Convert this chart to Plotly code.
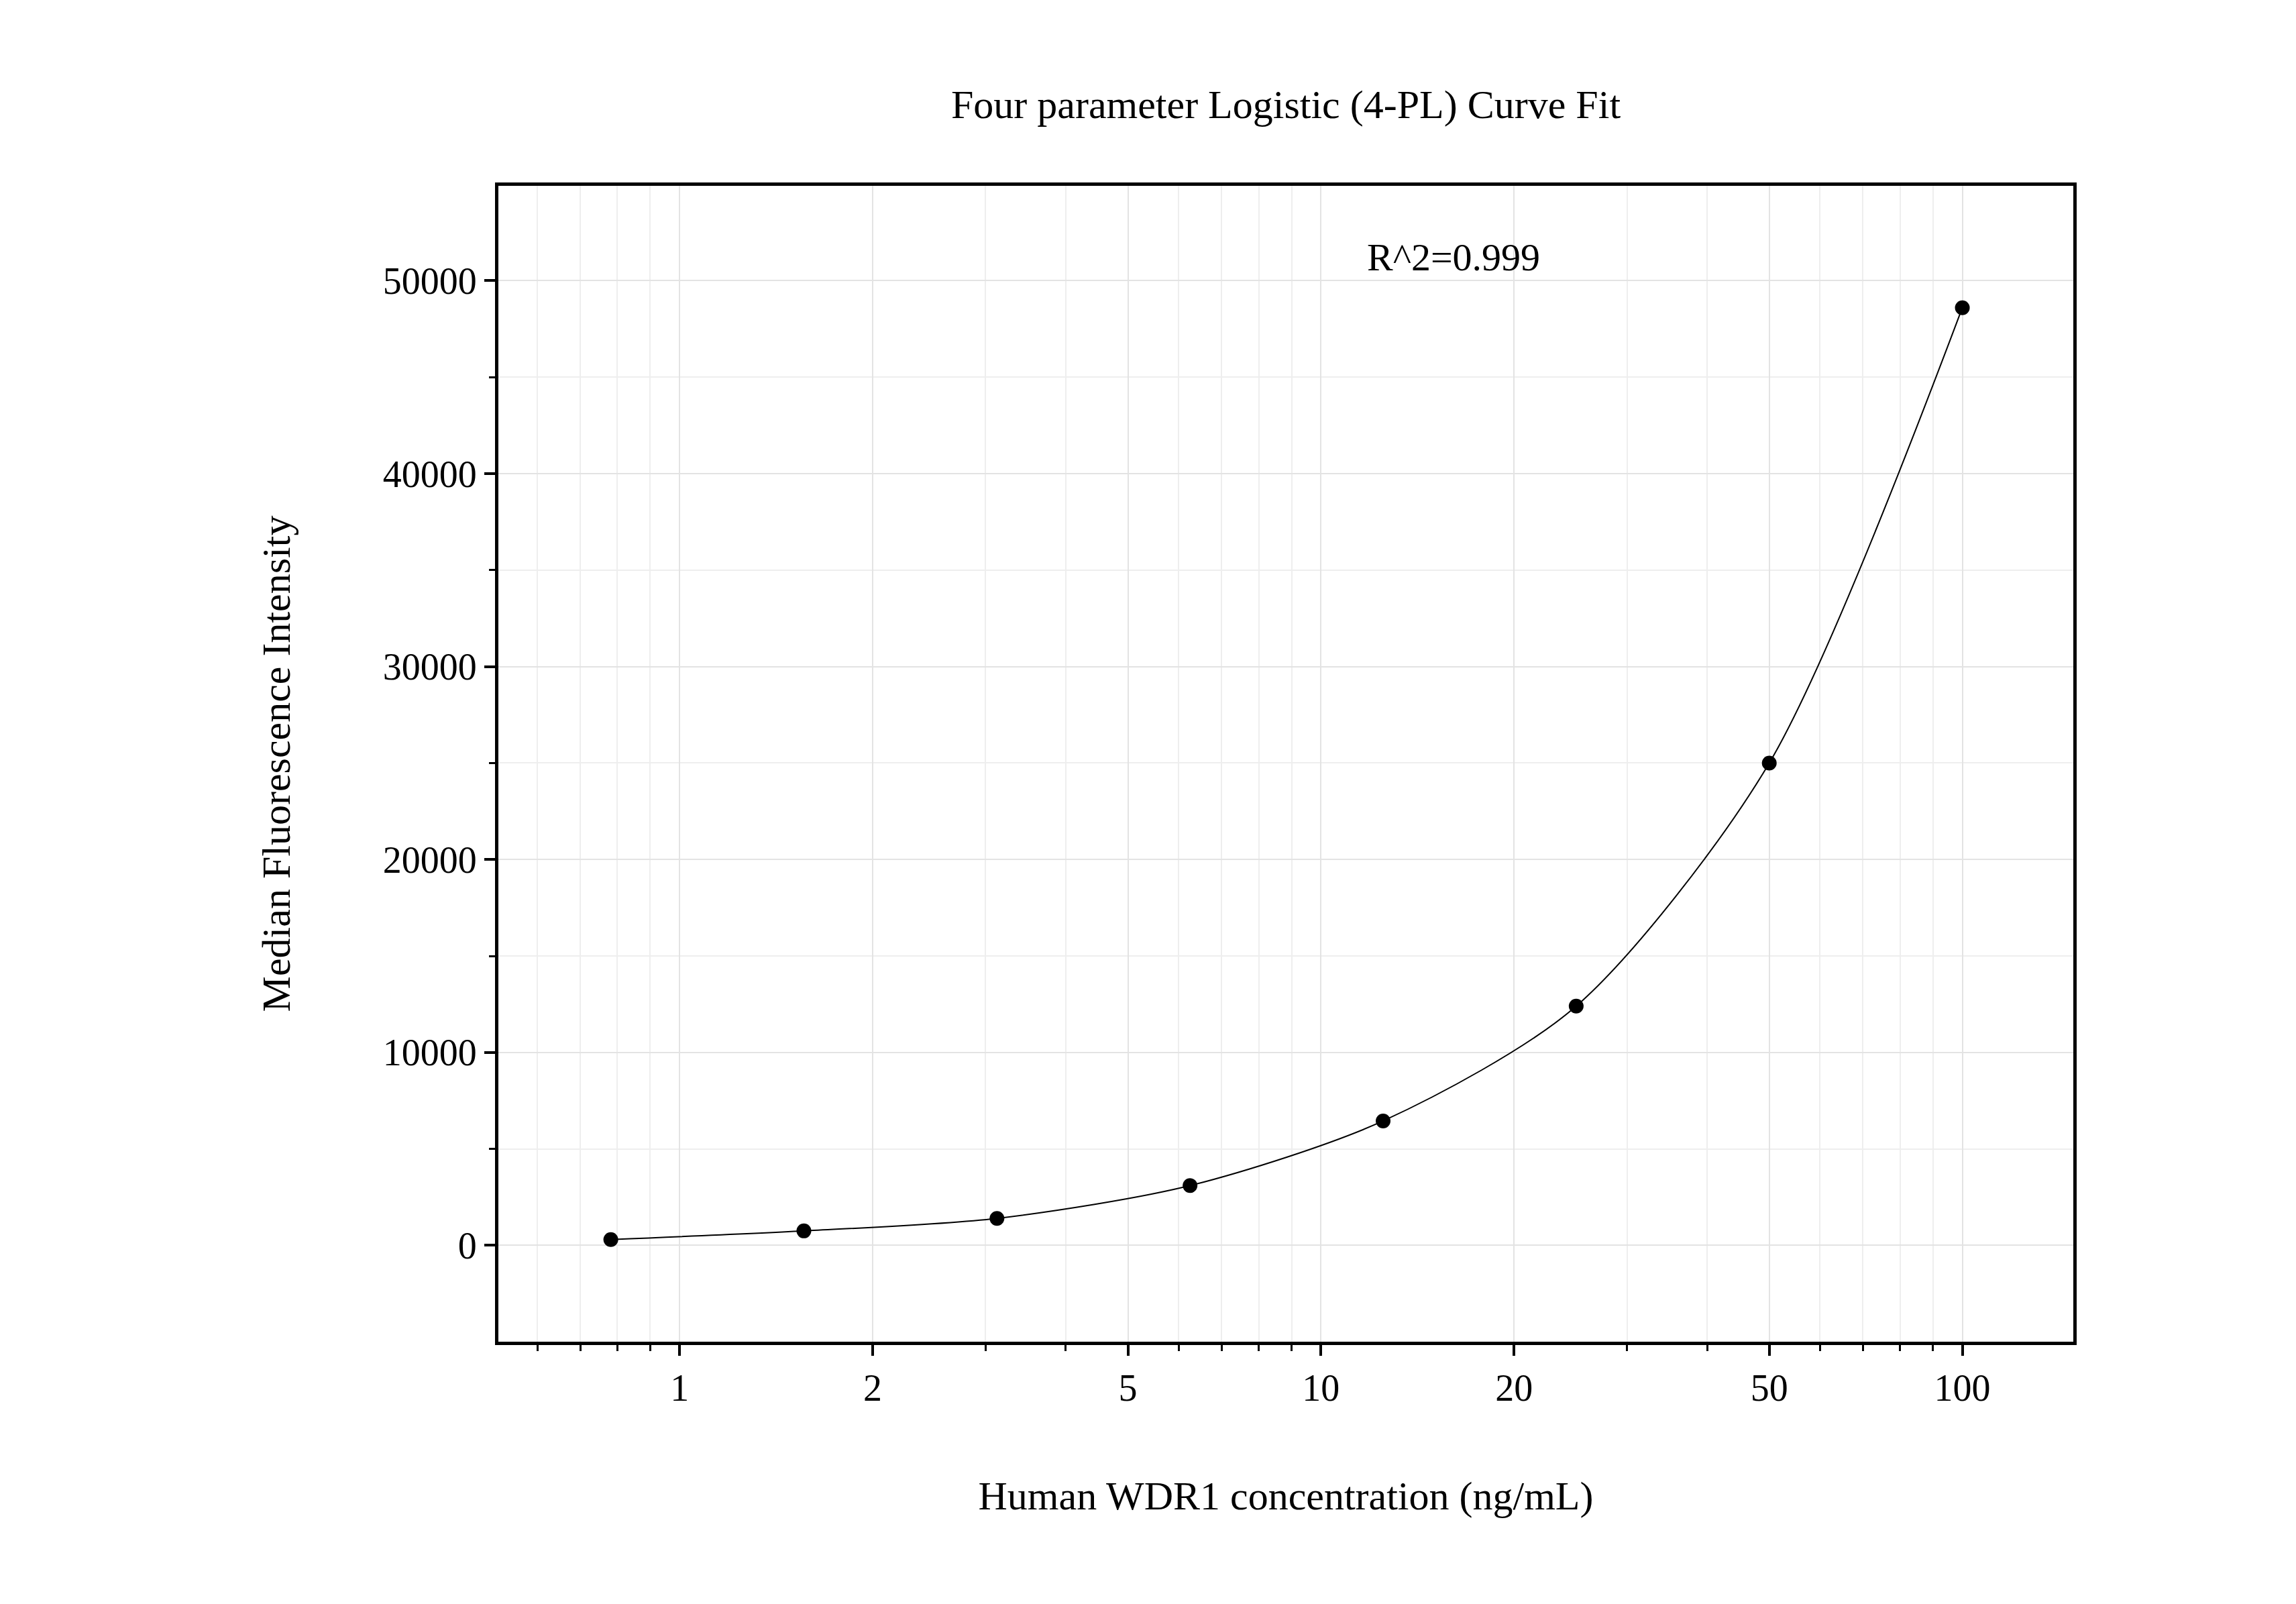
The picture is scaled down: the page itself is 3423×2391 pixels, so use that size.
import plotly.graph_objects as go

conc = [0.78125, 1.5625, 3.125, 6.25, 12.5, 25, 50, 100]
mfi = [300, 750, 1400, 3100, 6450, 12400, 25000, 48600]
xticks = [1, 2, 5, 10, 20, 50, 100]
yticks = [0, 10000, 20000, 30000, 40000, 50000]

F = "Liberation Serif"
fig = go.Figure()
fig.add_trace(go.Scatter(x=conc, y=mfi, mode="lines", line=dict(shape="spline", color="black", width=2, smoothing=0.8), hoverinfo="skip"))
fig.add_trace(go.Scatter(x=conc, y=mfi, mode="markers", marker=dict(color="black", size=22)))

ax = dict(showline=True, linecolor="black", linewidth=5, mirror=True, ticks="outside",
          ticklen=16, tickwidth=4, tickcolor="black", gridcolor="#e3e3e3", gridwidth=2,
          zeroline=False, tickfont=dict(family=F, size=56, color="black"))
fig.update_xaxes(type="log", range=[-0.2825, 2.173], tickvals=xticks, ticktext=[str(v) for v in xticks],
                 minor=dict(dtick="D1", ticks="outside", ticklen=9, tickwidth=3, tickcolor="black", showgrid=True, gridcolor="#eeeeee", gridwidth=2),
                 title=dict(text="Human WDR1 concentration (ng/mL)", font=dict(family=F, size=60, color="black"), standoff=110), **ax)
fig.update_yaxes(range=[-4992, 54917], tickvals=yticks, ticktext=[str(v) for v in yticks],
                 minor=dict(dtick=5000, ticks="outside", ticklen=9, tickwidth=3, tickcolor="black", showgrid=True, gridcolor="#eeeeee", gridwidth=2),
                 title=dict(text="Median Fluorescence Intensity", font=dict(family=F, size=60, color="black"), standoff=120), **ax)
fig.add_annotation(x=1.207, y=51210, xref="x", yref="y", text="R^2=0.999", showarrow=False,
                   font=dict(family=F, size=58, color="black"))
fig.update_layout(width=3423, height=2391, showlegend=False, plot_bgcolor="white", paper_bgcolor="white",
                  margin=dict(l=735, r=340, t=269, b=399),
                  title=dict(text="Four parameter Logistic (4-PL) Curve Fit", x=0.5, xref="paper", y=1-147/2391, yanchor="middle",
                             font=dict(family=F, size=60, color="black")))
fig.write_html("out.html")
